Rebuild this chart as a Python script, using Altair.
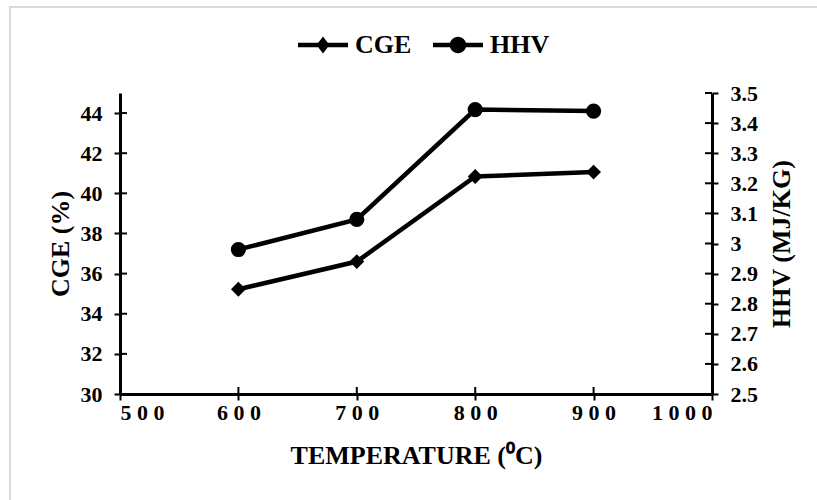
import altair as alt
import pandas as pd

# Gasification results by reactor temperature
temperature = [600, 700, 800, 900]
cge = [35.22, 36.6, 40.84, 41.06]      # cold gas efficiency, %
hhv = [2.98, 3.08, 3.445, 3.44]        # higher heating value, MJ/kg

series_names = ["CGE", "HHV"]
x_ticks = [500, 600, 700, 800, 900, 1000]
cge_ticks = [30, 32, 34, 36, 38, 40, 42, 44]
hhv_ticks = [2.5, 2.6, 2.7, 2.8, 2.9, 3.0, 3.1, 3.2, 3.3, 3.4, 3.5]

df = pd.DataFrame({"temperature": temperature, "CGE": cge, "HHV": hhv})

FONT = "Liberation Serif"
W, H = 592, 301
STUB = 7  # inner half of the crossing tick marks

# Shared axis styling: thick black spine with outward ticks
AXIS_STYLE = dict(
    domain=True,
    domainColor="black",
    domainWidth=3,
    ticks=True,
    tickColor="black",
    tickWidth=2,
    tickSize=6,
    grid=False,
    labelFont=FONT,
    labelFontSize=22,
    labelFontWeight="bold",
    labelColor="black",
    titleFont=FONT,
    titleFontSize=26,
    titleFontWeight="bold",
    titleColor="black",
)

# Legend glyphs: a line segment with the series marker on it (unit coordinates)
cge_glyph = "M-1,-0.09H1V0.09H-1Z M0,-0.34L0.26,0L0,0.34L-0.26,0Z"
hhv_glyph = ("M-1,-0.09H1V0.09H-1Z "
             "M0.33,0A0.33,0.33 0 1,1 -0.33,0A0.33,0.33 0 1,1 0.33,0Z")

x_enc = alt.X(
    "temperature:Q",
    title="TEMPERATURE (⁰C)",
    scale=alt.Scale(domain=[500, 1000], nice=False, zero=False),
    axis=alt.Axis(
        values=x_ticks,
        format="d",
        labelExpr="join(split(datum.label, ''), ' ')",
        labelPadding=2,
        titlePadding=19,
        **AXIS_STYLE,
    ),
)

y_cge = alt.Y(
    "CGE:Q",
    title="CGE (%)",
    scale=alt.Scale(domain=[30, 45], nice=False, zero=False),
    axis=alt.Axis(values=cge_ticks, orient="left", labelPadding=12,
                  titlePadding=7, titleAngle=270, **AXIS_STYLE),
)

y_hhv = alt.Y(
    "HHV:Q",
    title="HHV (MJ/KG)",
    scale=alt.Scale(domain=[2.5, 3.5], nice=False, zero=False),
    axis=alt.Axis(values=hhv_ticks, orient="right", format=".1~f",
                  labelPadding=12, titlePadding=37, titleAngle=270,
                  **AXIS_STYLE),
)

base = alt.Chart(df)

# Light chart-area frame
frame = alt.Chart(alt.Data(values=[{}])).mark_rect(
    fill="transparent", stroke="#d9d9d9", strokeWidth=2
).encode(
    x=alt.value(-110), x2=alt.value(720), y=alt.value(-86), y2=alt.value(430)
)

# Inner halves of the tick marks, so each tick crosses its spine
x_stubs = alt.Chart(pd.DataFrame({"temperature": x_ticks})).mark_rule(
    color="black", strokeWidth=2
).encode(x=x_enc, y=alt.value(H), y2=alt.value(H - STUB))
cge_stubs = alt.Chart(pd.DataFrame({"CGE": cge_ticks})).mark_rule(
    color="black", strokeWidth=2
).encode(y=y_cge, x=alt.value(0), x2=alt.value(STUB))
hhv_stubs = alt.Chart(pd.DataFrame({"HHV": hhv_ticks})).mark_rule(
    color="black", strokeWidth=2
).encode(y=y_hhv, x=alt.value(W), x2=alt.value(W - STUB))

cge_line = base.mark_line(color="black", strokeWidth=4.5).encode(x=x_enc, y=y_cge)
cge_pts = base.mark_point(
    shape="diamond", filled=True, size=220, color="black", opacity=1
).encode(x=x_enc, y=y_cge)

legend_layer = base.transform_fold(
    series_names, as_=["series", "value"]
).mark_point(filled=True, color="black", opacity=0).encode(
    x=x_enc,
    y=y_cge,
    shape=alt.Shape(
        "series:N",
        scale=alt.Scale(domain=series_names, range=[cge_glyph, hhv_glyph]),
        legend=alt.Legend(
            title=None,
            orient="none",
            legendX=178,
            legendY=-73,
            direction="horizontal",
            symbolSize=2500,
            symbolStrokeWidth=0,
            symbolFillColor="black",
            symbolOpacity=1,
            labelFont=FONT,
            labelFontSize=26,
            labelFontWeight="bold",
            labelColor="black",
            labelOffset=7,
            columnPadding=21,
        ),
    ),
)

hhv_line = base.mark_line(color="black", strokeWidth=4.5).encode(x=x_enc, y=y_hhv)
hhv_pts = base.mark_point(
    shape="circle", filled=True, size=230, color="black", opacity=1
).encode(x=x_enc, y=y_hhv)

left = alt.layer(frame, x_stubs, cge_stubs, cge_line, cge_pts, legend_layer)
right = alt.layer(hhv_stubs, hhv_line, hhv_pts)

chart = alt.layer(left, right).resolve_scale(y="independent").properties(
    width=W,
    height=H,
    padding={"left": 120, "top": 93, "right": 105, "bottom": 106},
    autosize=alt.AutoSizeParams(type="none"),
    background="white",
).configure_view(
    strokeWidth=0
)

chart.save("out.html", embed_options={"renderer": "svg", "actions": False})
